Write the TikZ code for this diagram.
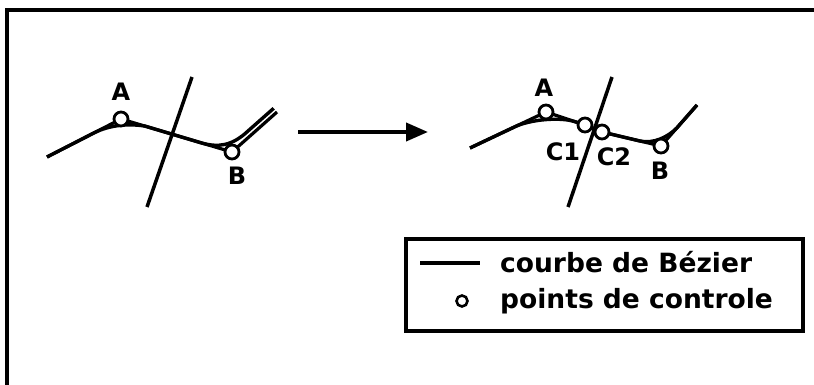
\documentclass[tikz,border=0pt]{standalone}
\usepackage{fontspec}
\setmainfont{DejaVu Sans}
\usetikzlibrary{arrows.meta}
\begin{document}
\begin{tikzpicture}[x=1pt,y=-1pt,
  ctrl/.style={circle,draw,fill=white,line width=2.8pt,minimum size=14pt,inner sep=0pt},
  lbl/.style={font=\bfseries\fontsize{24}{24}\selectfont,inner sep=0pt},
  leg/.style={font=\bfseries\fontsize{26.5}{27}\selectfont,inner sep=0pt,anchor=base west},
  poly/.style={line width=3.2pt,line join=round},
  curv/.style={line width=3.4pt,line join=round},
  cut/.style={line width=3.5pt}]
\clip (0,0) rectangle (814,385);
% outer frame (cut off at right and bottom)
\draw[line width=3.5pt] (7,420) -- (7,10) -- (840,10);

% ---------- left figure ----------
\coordinate (lP0) at (47,157);
\coordinate (lP3) at (277,112);
\coordinate (lT) at (192,77);
\coordinate (lD) at (147,207);
\draw[cut] (lD) -- (lT);
\draw[poly] (lP0) -- (121,119) -- (232,152) -- (lP3);
\draw[curv] (lP0) -- (95,132.4)
  .. controls (108,126) and (126,123) .. (145,126.1)
  -- (200,142.5)
  .. controls (218,148) and (232,146) .. (248,131)
  -- (273.7,108.3);
\node[ctrl] (lA) at (121,119) {};
\node[ctrl] (lB) at (232,152) {};
\node[lbl] (lAt) at (121,92) {A};
\node[lbl] (lBt) at (237,176) {B};

% ---------- arrow ----------
\coordinate (arS) at (298,132);
\coordinate (arE) at (428,132);
\draw[line width=4pt,-{Triangle[length=22pt,width=18pt]}] (arS) -- (arE);

% ---------- right figure ----------
\coordinate (rP0) at (470,148);
\coordinate (rP3) at (697,105);
\coordinate (rT) at (612,77);
\coordinate (rD) at (568,207);
\draw[cut] (rD) -- (rT);
\draw[poly] (rP0) -- (546,112) -- (585,125) -- (602,132) -- (661,146) -- (rP3);
\draw[curv] (rP0) -- (515,126.7)
  .. controls (530,119.6) and (560,116.7) .. (575,121.7)
  -- (585,125) -- (602,132) -- (640,141)
  .. controls (653,144) and (668,137.3) .. (677.2,127.5)
  -- (rP3);
\node[ctrl] (rA) at (546,112) {};
\node[ctrl] (rC1) at (585,125) {};
\node[ctrl] (rC2) at (602,132) {};
\node[ctrl] (rB) at (661,146) {};
\node[lbl] (rAt) at (544,88) {A};
\node[lbl] (rC1t) at (563,152) {C1};
\node[lbl] (rC2t) at (614,157) {C2};
\node[lbl] (rBt) at (660,171) {B};

% ---------- legend ----------
\draw[line width=3.2pt] (406,239) rectangle (803,331);
\coordinate (barL) at (420,263);
\coordinate (barR) at (480,263);
\draw[line width=3.2pt] (barL) -- (barR);
\node[circle,draw,line width=2.6pt,minimum size=11pt,inner sep=0pt] (legc) at (462,301) {};
\node[leg] (leg1) at (500,272) {courbe de Bézier};
\node[leg] (leg2) at (500,308) {points de controle};
\end{tikzpicture}
\end{document}
